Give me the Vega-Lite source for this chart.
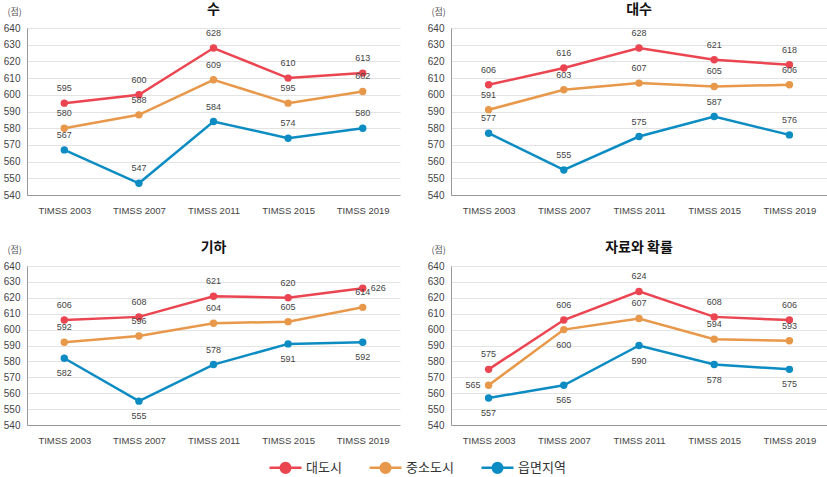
{
  "$schema": "https://vega.github.io/schema/vega-lite/v6.json",
  "padding": {"left": 3, "top": 3, "right": 0, "bottom": 0},
  "background": "white",
  "spacing": 26,
  "data": {"values": [
    {"panel":"수","group":"대도시","year":"TIMSS 2003","score":595},
    {"panel":"수","group":"대도시","year":"TIMSS 2007","score":600},
    {"panel":"수","group":"대도시","year":"TIMSS 2011","score":628},
    {"panel":"수","group":"대도시","year":"TIMSS 2015","score":610},
    {"panel":"수","group":"대도시","year":"TIMSS 2019","score":613},
    {"panel":"수","group":"중소도시","year":"TIMSS 2003","score":580},
    {"panel":"수","group":"중소도시","year":"TIMSS 2007","score":588},
    {"panel":"수","group":"중소도시","year":"TIMSS 2011","score":609},
    {"panel":"수","group":"중소도시","year":"TIMSS 2015","score":595},
    {"panel":"수","group":"중소도시","year":"TIMSS 2019","score":602},
    {"panel":"수","group":"읍면지역","year":"TIMSS 2003","score":567},
    {"panel":"수","group":"읍면지역","year":"TIMSS 2007","score":547},
    {"panel":"수","group":"읍면지역","year":"TIMSS 2011","score":584},
    {"panel":"수","group":"읍면지역","year":"TIMSS 2015","score":574},
    {"panel":"수","group":"읍면지역","year":"TIMSS 2019","score":580},
    {"panel":"대수","group":"대도시","year":"TIMSS 2003","score":606},
    {"panel":"대수","group":"대도시","year":"TIMSS 2007","score":616},
    {"panel":"대수","group":"대도시","year":"TIMSS 2011","score":628},
    {"panel":"대수","group":"대도시","year":"TIMSS 2015","score":621},
    {"panel":"대수","group":"대도시","year":"TIMSS 2019","score":618},
    {"panel":"대수","group":"중소도시","year":"TIMSS 2003","score":591},
    {"panel":"대수","group":"중소도시","year":"TIMSS 2007","score":603},
    {"panel":"대수","group":"중소도시","year":"TIMSS 2011","score":607},
    {"panel":"대수","group":"중소도시","year":"TIMSS 2015","score":605},
    {"panel":"대수","group":"중소도시","year":"TIMSS 2019","score":606},
    {"panel":"대수","group":"읍면지역","year":"TIMSS 2003","score":577},
    {"panel":"대수","group":"읍면지역","year":"TIMSS 2007","score":555},
    {"panel":"대수","group":"읍면지역","year":"TIMSS 2011","score":575},
    {"panel":"대수","group":"읍면지역","year":"TIMSS 2015","score":587},
    {"panel":"대수","group":"읍면지역","year":"TIMSS 2019","score":576},
    {"panel":"기하","group":"대도시","year":"TIMSS 2003","score":606},
    {"panel":"기하","group":"대도시","year":"TIMSS 2007","score":608},
    {"panel":"기하","group":"대도시","year":"TIMSS 2011","score":621},
    {"panel":"기하","group":"대도시","year":"TIMSS 2015","score":620},
    {"panel":"기하","group":"대도시","year":"TIMSS 2019","score":626},
    {"panel":"기하","group":"중소도시","year":"TIMSS 2003","score":592},
    {"panel":"기하","group":"중소도시","year":"TIMSS 2007","score":596},
    {"panel":"기하","group":"중소도시","year":"TIMSS 2011","score":604},
    {"panel":"기하","group":"중소도시","year":"TIMSS 2015","score":605},
    {"panel":"기하","group":"중소도시","year":"TIMSS 2019","score":614},
    {"panel":"기하","group":"읍면지역","year":"TIMSS 2003","score":582},
    {"panel":"기하","group":"읍면지역","year":"TIMSS 2007","score":555},
    {"panel":"기하","group":"읍면지역","year":"TIMSS 2011","score":578},
    {"panel":"기하","group":"읍면지역","year":"TIMSS 2015","score":591},
    {"panel":"기하","group":"읍면지역","year":"TIMSS 2019","score":592},
    {"panel":"자료와 확률","group":"대도시","year":"TIMSS 2003","score":575},
    {"panel":"자료와 확률","group":"대도시","year":"TIMSS 2007","score":606},
    {"panel":"자료와 확률","group":"대도시","year":"TIMSS 2011","score":624},
    {"panel":"자료와 확률","group":"대도시","year":"TIMSS 2015","score":608},
    {"panel":"자료와 확률","group":"대도시","year":"TIMSS 2019","score":606},
    {"panel":"자료와 확률","group":"중소도시","year":"TIMSS 2003","score":565},
    {"panel":"자료와 확률","group":"중소도시","year":"TIMSS 2007","score":600},
    {"panel":"자료와 확률","group":"중소도시","year":"TIMSS 2011","score":607},
    {"panel":"자료와 확률","group":"중소도시","year":"TIMSS 2015","score":594},
    {"panel":"자료와 확률","group":"중소도시","year":"TIMSS 2019","score":593},
    {"panel":"자료와 확률","group":"읍면지역","year":"TIMSS 2003","score":557},
    {"panel":"자료와 확률","group":"읍면지역","year":"TIMSS 2007","score":565},
    {"panel":"자료와 확률","group":"읍면지역","year":"TIMSS 2011","score":590},
    {"panel":"자료와 확률","group":"읍면지역","year":"TIMSS 2015","score":578},
    {"panel":"자료와 확률","group":"읍면지역","year":"TIMSS 2019","score":575}
  ]},
  "resolve": {"scale": {"x": "independent", "y": "independent"}},
  "vconcat": [
    {
      "hconcat": [
        {
          "width": 373, "height": 167,
          "title": {"text": "수"},
          "transform": [{"filter": "datum.panel == '수'"}],
          "encoding": {
            "x": {"field": "year", "type": "ordinal", "scale": {"type": "point", "padding": 0.5}, "title": null},
            "y": {"field": "score", "type": "quantitative", "scale": {"domain": [540, 640], "nice": false, "zero": false}, "axis": {"title": "(점)", "values": [540,550,560,570,580,590,600,610,620,630,640]}}
          },
          "layer": [
            {"mark": {"type": "line", "strokeWidth": 2.5}, "encoding": {"color": {"field": "group", "type": "nominal", "scale": {"domain": ["대도시","중소도시","읍면지역"], "range": ["#EA4550","#E8984A","#0C8CC2"]}}}},
            {"mark": {"type": "point", "filled": true, "size": 55, "opacity": 1}, "encoding": {"color": {"field": "group", "type": "nominal"}}},
            {"mark": {"type": "text", "dy": -15}, "encoding": {"text": {"field": "score"}}}
          ]
        },
        {
          "width": 376, "height": 167,
          "title": {"text": "대수"},
          "transform": [{"filter": "datum.panel == '대수'"}],
          "encoding": {
            "x": {"field": "year", "type": "ordinal", "scale": {"type": "point", "padding": 0.5}, "title": null},
            "y": {"field": "score", "type": "quantitative", "scale": {"domain": [540, 640], "nice": false, "zero": false}, "axis": {"title": "(점)", "values": [540,550,560,570,580,590,600,610,620,630,640]}}
          },
          "layer": [
            {"mark": {"type": "line", "strokeWidth": 2.5}, "encoding": {"color": {"field": "group", "type": "nominal"}}},
            {"mark": {"type": "point", "filled": true, "size": 55, "opacity": 1}, "encoding": {"color": {"field": "group", "type": "nominal"}}},
            {"mark": {"type": "text", "dy": -15}, "encoding": {"text": {"field": "score"}}}
          ]
        }
      ],
      "bounds": "flush",
      "spacing": 51,
      "resolve": {"scale": {"x": "independent", "y": "independent"}}
    },
    {
      "hconcat": [
        {
          "width": 373, "height": 159,
          "title": {"text": "기하"},
          "transform": [{"filter": "datum.panel == '기하'"}],
          "encoding": {
            "x": {"field": "year", "type": "ordinal", "scale": {"type": "point", "padding": 0.5}, "title": null},
            "y": {"field": "score", "type": "quantitative", "scale": {"domain": [540, 640], "nice": false, "zero": false}, "axis": {"title": "(점)", "values": [540,550,560,570,580,590,600,610,620,630,640]}}
          },
          "layer": [
            {"mark": {"type": "line", "strokeWidth": 2.5}, "encoding": {"color": {"field": "group", "type": "nominal"}}},
            {"mark": {"type": "point", "filled": true, "size": 55, "opacity": 1}, "encoding": {"color": {"field": "group", "type": "nominal"}}},
            {"transform": [{"filter": "!((datum.group=='읍면지역' && datum.year!='TIMSS 2011') || (datum.group=='대도시' && datum.year=='TIMSS 2019'))"}], "mark": {"type": "text", "dy": -15}, "encoding": {"text": {"field": "score"}}},
            {"transform": [{"filter": "datum.group=='읍면지역' && datum.year!='TIMSS 2011'"}], "mark": {"type": "text", "dy": 15}, "encoding": {"text": {"field": "score"}}},
            {"transform": [{"filter": "datum.group=='대도시' && datum.year=='TIMSS 2019'"}], "mark": {"type": "text", "dx": 8, "align": "left"}, "encoding": {"text": {"field": "score"}}}
          ]
        },
        {
          "width": 376, "height": 159,
          "title": {"text": "자료와 확률"},
          "transform": [{"filter": "datum.panel == '자료와 확률'"}],
          "encoding": {
            "x": {"field": "year", "type": "ordinal", "scale": {"type": "point", "padding": 0.5}, "title": null},
            "y": {"field": "score", "type": "quantitative", "scale": {"domain": [540, 640], "nice": false, "zero": false}, "axis": {"title": "(점)", "values": [540,550,560,570,580,590,600,610,620,630,640]}}
          },
          "layer": [
            {"mark": {"type": "line", "strokeWidth": 2.5}, "encoding": {"color": {"field": "group", "type": "nominal"}}},
            {"mark": {"type": "point", "filled": true, "size": 55, "opacity": 1}, "encoding": {"color": {"field": "group", "type": "nominal"}}},
            {"transform": [{"filter": "datum.group=='대도시' || (datum.group=='중소도시' && datum.year!='TIMSS 2003' && datum.year!='TIMSS 2007')"}], "mark": {"type": "text", "dy": -15}, "encoding": {"text": {"field": "score"}}},
            {"transform": [{"filter": "datum.group=='읍면지역' || (datum.group=='중소도시' && datum.year=='TIMSS 2007')"}], "mark": {"type": "text", "dy": 15}, "encoding": {"text": {"field": "score"}}},
            {"transform": [{"filter": "datum.group=='중소도시' && datum.year=='TIMSS 2003'"}], "mark": {"type": "text", "dx": -8, "align": "right"}, "encoding": {"text": {"field": "score"}}}
          ]
        }
      ],
      "bounds": "flush",
      "spacing": 51,
      "resolve": {"scale": {"x": "independent", "y": "independent"}}
    }
  ],
  "config": {
    "font": "Liberation Sans, Noto Sans CJK KR",
    "view": {"stroke": null},
    "title": {"fontSize": 14, "fontWeight": "bold", "font": "Noto Sans CJK KR", "color": "#111", "anchor": "middle", "frame": "group", "offset": -10},
    "text": {"fontSize": 9, "color": "#444", "font": "Liberation Sans"},
    "axis": {"domainColor": "#999", "domainWidth": 1, "ticks": false, "tickSize": 0, "labelColor": "#444", "labelFont": "Liberation Sans", "gridColor": "#e3e3e3", "gridWidth": 1},
    "axisY": {"labelFontSize": 10, "labelPadding": 7, "titleAngle": 0, "titleX": -20, "titleY": -17, "titleAlign": "left", "titleBaseline": "middle", "titleFontSize": 9, "titleFontWeight": "normal", "titleColor": "#555", "titleFont": "Noto Sans CJK KR", "grid": true},
    "axisX": {"labelFontSize": 9.5, "labelFont": "Liberation Sans", "labelPadding": 10, "labelAngle": 0, "grid": false},
    "legend": {"orient": "none", "legendX": 241, "legendY": 422, "direction": "horizontal", "title": null, "labelFontSize": 13, "labelFont": "Noto Sans CJK KR", "labelColor": "#333", "symbolType": "M-1,0H1M0.3,0A0.3,0.3,0,1,1,-0.3,0A0.3,0.3,0,1,1,0.3,0Z", "symbolSize": 1024, "symbolStrokeWidth": 2.5, "columnPadding": 22, "labelOffset": 3}
  }
}
